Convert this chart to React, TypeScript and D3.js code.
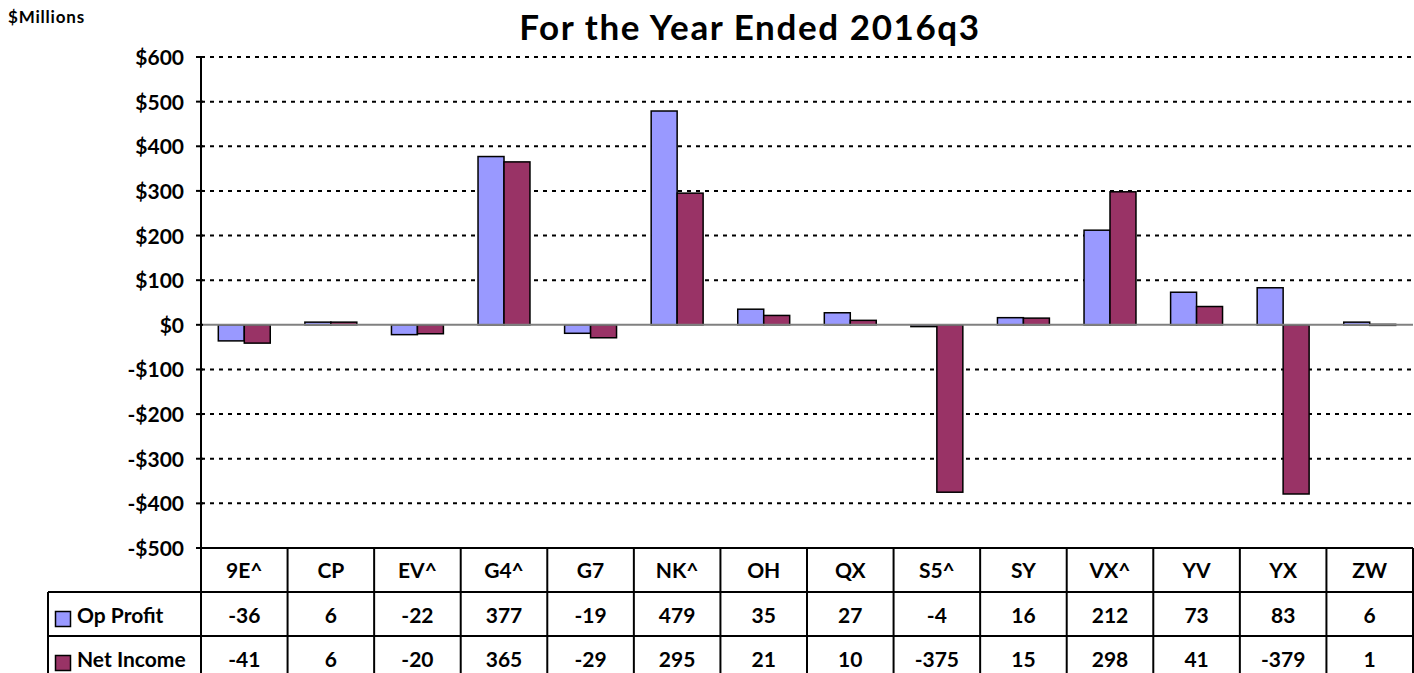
import React from "react";
import * as d3 from "d3";

const width = 1414;
const height = 673;

const categories = ["9E^", "CP", "EV^", "G4^", "G7", "NK^", "OH", "QX", "S5^", "SY", "VX^", "YV", "YX", "ZW"];
const opProfit = [-36, 6, -22, 377, -19, 479, 35, 27, -4, 16, 212, 73, 83, 6];
const netIncome = [-41, 6, -20, 365, -29, 295, 21, 10, -375, 15, 298, 41, -379, 1];
const yTicks = [600, 500, 400, 300, 200, 100, 0, -100, -200, -300, -400, -500];

const seriesNames = ["Op Profit", "Net Income"];
const colors = ["#9999ff", "#993366"];

const font = "Lato, 'Open Sans', sans-serif";

const plotLeft = 201;
const plotRight = 1413;
const plotTop = 57;
const plotBottom = 548;
const rowH = 44;

const App = () => {
  const x = d3.scaleBand<string>().domain(categories).range([plotLeft, plotRight]);
  const y = d3.scaleLinear().domain([-500, 600]).range([plotBottom, plotTop]);
  const bw = x.bandwidth();
  const barW = bw * 0.3;
  const series = [opProfit, netIncome];

  const fmt = (v: number) => (v < 0 ? `-$${Math.abs(v)}` : `$${v}`);

  return (
    <svg width={width} height={height} style={{ display: "block", position: "absolute", left: 0, top: 0 }}>
      <rect width={width} height={height} fill="#fff" />
      <text x={8} y={23} fontFamily={font} fontWeight="bold" fontSize={17} letterSpacing={0.8}>
        $Millions
      </text>
      <text x={750} y={40} textAnchor="middle" fontFamily={font} fontWeight="bold" fontSize={35} letterSpacing={1.6}>
        For the Year Ended 2016q3
      </text>

      {/* gridlines */}
      {yTicks.filter((t) => t !== 0).map((t) => (
        <line key={t} x1={plotLeft} x2={plotRight} y1={y(t)} y2={y(t)} stroke="#000" strokeWidth={2} strokeDasharray="4,5" />
      ))}

      {/* bars */}
      {series.map((vals, s) =>
        vals.map((v, i) => {
          const bx = (x(categories[i]) as number) + bw * 0.2 + s * barW;
          const y0 = y(0);
          const y1 = y(v);
          return (
            <rect
              key={`${s}-${i}`}
              x={bx}
              y={Math.min(y0, y1)}
              width={barW}
              height={Math.max(Math.abs(y1 - y0), 1)}
              fill={colors[s]}
              stroke="#000"
              strokeWidth={1.5}
            />
          );
        })
      )}

      {/* zero line */}
      <line x1={plotLeft} x2={plotRight} y1={y(0)} y2={y(0)} stroke="#808080" strokeWidth={2} />

      {/* y axis */}
      <line x1={plotLeft} x2={plotLeft} y1={plotTop} y2={plotBottom} stroke="#000" strokeWidth={2} />
      {yTicks.map((t) => (
        <g key={t}>
          <line x1={plotLeft - 5} x2={plotLeft + 2} y1={y(t)} y2={y(t)} stroke="#000" strokeWidth={2} />
          <text x={184} y={y(t) + 8} textAnchor="end" fontFamily={font} fontWeight="bold" fontSize={21}>
            {fmt(t)}
          </text>
        </g>
      ))}

      {/* data table */}
      <g fontFamily={font} fontWeight="bold" fontSize={21}>
        {categories.map((c) => (
          <text key={c} x={(x(c) as number) + bw / 2} y={plotBottom + 30} textAnchor="middle">
            {c}
          </text>
        ))}
        {series.map((vals, s) => (
          <g key={s}>
            <rect x={55.5} y={plotBottom + rowH * (s + 1) + 19.5} width={15} height={15} fill={colors[s]} stroke="#000" strokeWidth={1.5} />
            <text x={77} y={plotBottom + rowH * (s + 1) + 31}>
              {seriesNames[s]}
            </text>
            {vals.map((v, i) => (
              <text key={i} x={(x(categories[i]) as number) + bw / 2} y={plotBottom + rowH * (s + 1) + 31} textAnchor="middle">
                {v}
              </text>
            ))}
          </g>
        ))}
        {/* horizontal table lines */}
        <line x1={plotLeft} x2={plotRight} y1={plotBottom} y2={plotBottom} stroke="#000" strokeWidth={2} />
        <line x1={48} x2={plotRight} y1={plotBottom + rowH} y2={plotBottom + rowH} stroke="#000" strokeWidth={2} />
        <line x1={48} x2={plotRight} y1={plotBottom + rowH * 2} y2={plotBottom + rowH * 2} stroke="#000" strokeWidth={2} />
        {/* vertical table lines */}
        <line x1={48} x2={48} y1={plotBottom + rowH} y2={height} stroke="#000" strokeWidth={2} />
        {categories.map((c) => (
          <line key={c} x1={x(c) as number} x2={x(c) as number} y1={plotBottom} y2={height} stroke="#000" strokeWidth={2} />
        ))}
        <line x1={plotRight} x2={plotRight} y1={plotBottom} y2={height} stroke="#000" strokeWidth={2} />
      </g>
    </svg>
  );
};

export default App;
